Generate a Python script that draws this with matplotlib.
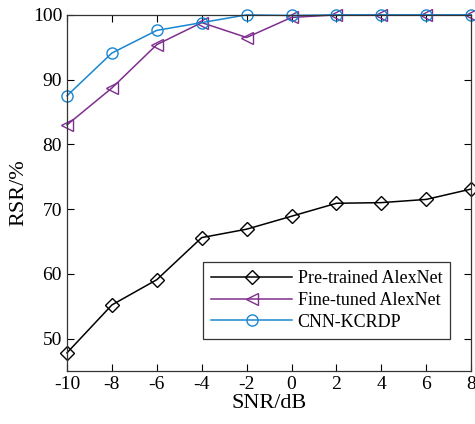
import matplotlib.pyplot as plt

plt.rcParams['font.family'] = ['Liberation Serif', 'DejaVu Serif']
plt.rcParams['mathtext.fontset'] = 'stix'

snr = [-10, -8, -6, -4, -2, 0, 2, 4, 6, 8]
pretrained = [47.8, 55.2, 59.1, 65.6, 66.9, 68.9, 70.9, 71.0, 71.5, 73.1]
finetuned = [83.0, 88.7, 95.4, 98.8, 96.5, 99.6, 100, 100, 100, 100]
cnn_kcrdp = [87.5, 94.1, 97.6, 98.8, 100, 99.9, 100, 100, 100, 100]

labels = ['Pre-trained AlexNet', 'Fine-tuned AlexNet', 'CNN-KCRDP']
colors = ['black', '#7E2F8E', '#1a86d0']
markers = ['D', '<', 'o']

fig = plt.figure(figsize=(4.75, 4.24), dpi=100)
ax = fig.add_axes([0.141, 0.125, 0.851, 0.84])

for y, lab, c, m in zip([pretrained, finetuned, cnn_kcrdp], labels, colors, markers):
    ax.plot(snr, y, color=c, marker=m, markersize=8 if m != 'D' else 7,
            markerfacecolor='none', markeredgecolor=c, linewidth=1.1,
            label=lab, clip_on=False)

ax.set_xlim(-10, 8)
ax.set_ylim(45, 100)
ax.set_xticks(snr)
ax.set_xticklabels([str(v) for v in snr])
ax.set_yticks([50, 60, 70, 80, 90, 100])
ax.tick_params(direction='in', top=True, right=True, labelsize=14, length=5, width=0.8)
for s in ax.spines.values():
    s.set_linewidth(0.9)
    s.set_color('#333333')
ax.set_xlabel('SNR/dB', fontsize=16, labelpad=1)
ax.set_ylabel('RSR/%', fontsize=16, labelpad=3)

leg = ax.legend(loc='lower right', bbox_to_anchor=(0.962, 0.075), fontsize=13,
                handlelength=4.5, frameon=True, fancybox=False, edgecolor='black',
                borderpad=0.45, labelspacing=0.27, handletextpad=0.3,
                borderaxespad=0.3)
leg.get_frame().set_linewidth(0.9)

fig.savefig('out.png', dpi=100)
